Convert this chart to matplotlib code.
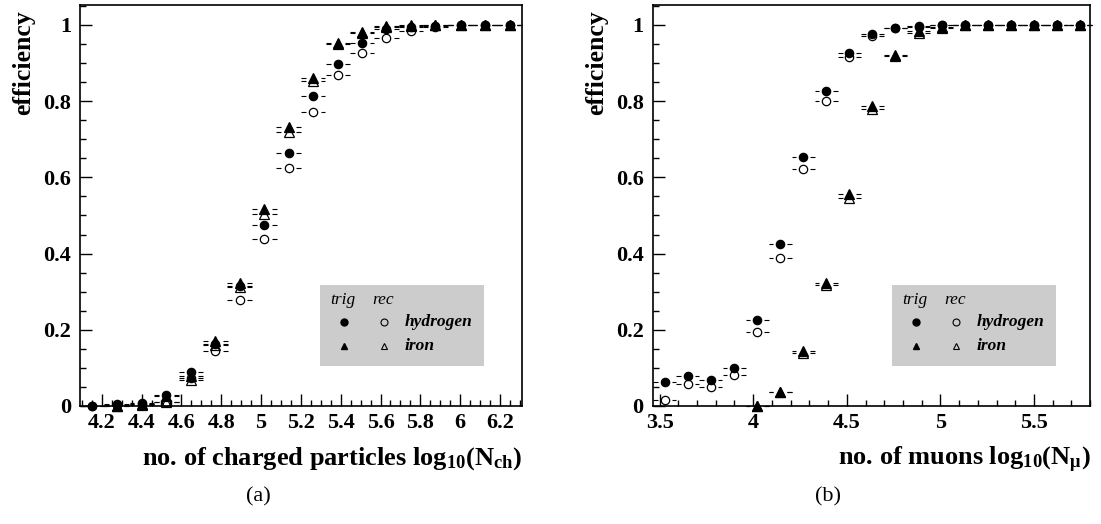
import matplotlib
matplotlib.use("Agg")
import matplotlib.pyplot as plt
import numpy as np
from matplotlib.ticker import MultipleLocator, FormatStrFormatter

plt.rcParams['font.family'] = ['Liberation Serif', 'DejaVu Serif']
plt.rcParams['font.weight'] = 'bold'
plt.rcParams['mathtext.fontset'] = 'custom'
plt.rcParams['mathtext.rm'] = 'Liberation Serif:bold'
plt.rcParams['mathtext.bf'] = 'Liberation Serif:bold'
plt.rcParams['mathtext.it'] = 'Liberation Serif:italic:bold'

nan = np.nan

# (a) charged particles
x_ch = [4.153, 4.275, 4.401, 4.525, 4.648, 4.770, 4.893, 5.017, 5.139, 5.262,
        5.386, 5.508, 5.630, 5.754, 5.876, 6.002, 6.124, 6.248]
h_trig_ch = [0.0, 0.004, 0.007, 0.029, 0.089, 0.164, 0.315, 0.474, 0.663, 0.814,
             0.898, 0.954, 0.989, 0.996, 0.998, 1.0, 1.0, 1.0]
h_rec_ch = [0.0, 0.002, 0.004, 0.011, 0.073, 0.144, 0.278, 0.437, 0.624, 0.771,
            0.869, 0.926, 0.967, 0.985, 0.996, 0.999, 1.0, 1.0]
fe_trig_ch = [nan, 0.0, 0.005, 0.025, 0.079, 0.171, 0.324, 0.517, 0.731, 0.862,
              0.954, 0.981, 0.998, 0.999, 1.0, 1.0, 1.0, 1.0]
fe_rec_ch = [nan, 0.0, 0.003, 0.011, 0.068, 0.160, 0.313, 0.504, 0.718, 0.853,
             0.949, 0.978, 0.996, 0.997, 1.0, 1.0, 1.0, 1.0]

# (b) muons
x_mu = [3.528, 3.651, 3.774, 3.898, 4.021, 4.144, 4.267, 4.390, 4.514, 4.637,
        4.760, 4.883, 5.006, 5.130, 5.253, 5.376, 5.499, 5.622, 5.746]
h_trig_mu = [0.064, 0.079, 0.068, 0.100, 0.226, 0.425, 0.654, 0.826, 0.927, 0.976,
             0.993, 0.997, 1.0, 1.0, 1.0, 1.0, 1.0, 1.0, 1.0]
h_rec_mu = [0.016, 0.057, 0.051, 0.081, 0.195, 0.389, 0.621, 0.801, 0.917, 0.971,
            0.991, 0.996, 0.999, 1.0, 1.0, 1.0, 1.0, 1.0, 1.0]
fe_trig_mu = [nan, nan, nan, nan, 0.0, 0.038, 0.145, 0.324, 0.556, 0.787,
              0.921, 0.983, 0.994, 1.0, 1.0, 1.0, 1.0, 1.0, 1.0]
fe_rec_mu = [nan, nan, nan, nan, 0.0, 0.036, 0.140, 0.318, 0.546, 0.779,
             0.918, 0.978, 0.992, 0.999, 1.0, 1.0, 1.0, 1.0, 1.0]

half_bin = 0.0616
gap = 0.037


def draw_series(ax, x, y, marker, filled, ms):
    x = np.array(x)
    y = np.array(y, dtype=float)
    ok = ~np.isnan(y)
    # horizontal bin bars with a gap around the marker
    ax.hlines(y[ok], x[ok] - half_bin, x[ok] - gap, color='black', lw=0.8, clip_on=False)
    ax.hlines(y[ok], x[ok] + gap, x[ok] + half_bin, color='black', lw=0.8, clip_on=False)
    fc = 'black' if filled else 'none'
    ax.plot(x[ok], y[ok], linestyle='none', marker=marker, ms=ms, mfc=fc, mec='black',
            mew=0.9, clip_on=False, zorder=3)


def style_axes(ax, xlim, xmaj, xmin):
    ax.set_xlim(*xlim)
    ax.set_ylim(0, 1.0525)
    ax.xaxis.set_major_locator(MultipleLocator(xmaj))
    ax.xaxis.set_minor_locator(MultipleLocator(xmin))
    ax.yaxis.set_major_locator(MultipleLocator(0.2))
    ax.yaxis.set_minor_locator(MultipleLocator(0.05))
    ax.xaxis.set_major_formatter(FormatStrFormatter('%g'))
    ax.yaxis.set_major_formatter(FormatStrFormatter('%g'))
    ax.tick_params(which='both', direction='in', top=False, right=False, width=1.0)
    ax.tick_params(which='major', length=8.5, labelsize=16)
    ax.tick_params(which='minor', length=4.3)
    ax.tick_params(axis='x', pad=5)
    ax.tick_params(axis='y', pad=6.5)
    for s in ax.spines.values():
        s.set_linewidth(1.2)


def draw_legend(ax, box):
    lg = ax.inset_axes(box)
    lg.set_facecolor('#cccccc')
    lg.set_xlim(0, 1)
    lg.set_ylim(0, 1)
    lg.set_xticks([])
    lg.set_yticks([])
    for s in lg.spines.values():
        s.set_visible(False)
    lg.text(0.06, 0.815, 'trig', style='italic', weight='normal', fontsize=12.5, va='center')
    lg.text(0.317, 0.815, 'rec', style='italic', weight='normal', fontsize=12.5, va='center')
    lg.plot([0.146], [0.543], 'o', color='black', ms=5)
    lg.plot([0.39], [0.543], 'o', mfc='none', mec='black', ms=5, mew=0.8)
    lg.plot([0.146], [0.247], '^', color='black', ms=5)
    lg.plot([0.39], [0.247], '^', mfc='none', mec='black', ms=5, mew=0.8)
    lg.text(0.518, 0.543, 'hydrogen', style='italic', fontsize=12.5, va='center')
    lg.text(0.518, 0.247, 'iron', style='italic', fontsize=12.5, va='center')


fig = plt.figure(figsize=(11.01, 5.24), dpi=100)
ax1 = fig.add_axes([0.0727, 0.2252, 0.4015, 0.7653])
ax2 = fig.add_axes([0.5928, 0.2252, 0.3974, 0.7653])

for ax, x, ht, hr, ft, fr in [(ax1, x_ch, h_trig_ch, h_rec_ch, fe_trig_ch, fe_rec_ch),
                              (ax2, x_mu, h_trig_mu, h_rec_mu, fe_trig_mu, fe_rec_mu)]:
    draw_series(ax, x, hr, 'o', False, 6)
    draw_series(ax, x, fr, '^', False, 6.5)
    draw_series(ax, x, ft, '^', True, 6.5)
    draw_series(ax, x, ht, 'o', True, 6)

style_axes(ax1, (4.091, 6.311), 0.2, 0.05)
style_axes(ax2, (3.463, 5.80), 0.5, 0.1)

ax1.text(1.0, -0.147, r'no. of charged particles log$_{10}$(N$_{\mathrm{ch}}$)',
         transform=ax1.transAxes, ha='right', va='baseline', fontsize=19)
ax2.text(1.0, -0.147, r'no. of muons log$_{10}$(N$_{\mathrm{μ}}$)',
         transform=ax2.transAxes, ha='right', va='baseline', fontsize=19)

ax1.text(-0.127, 0.9875, 'efficiency', rotation=90, transform=ax1.transAxes,
         ha='center', va='top', fontsize=18.5)
ax2.text(-0.128, 0.9875, 'efficiency', rotation=90, transform=ax2.transAxes,
         ha='center', va='top', fontsize=18.5)

draw_legend(ax1, [0.543, 0.0998, 0.371, 0.202])
draw_legend(ax2, [0.547, 0.0998, 0.375, 0.202])

fig.text(258 / 1101, 1 - 497 / 524, '(a)', ha='center', va='center', fontsize=16, weight='normal')
fig.text(828 / 1101, 1 - 497 / 524, '(b)', ha='center', va='center', fontsize=16, weight='normal')

fig.savefig('out.png', dpi=100)
